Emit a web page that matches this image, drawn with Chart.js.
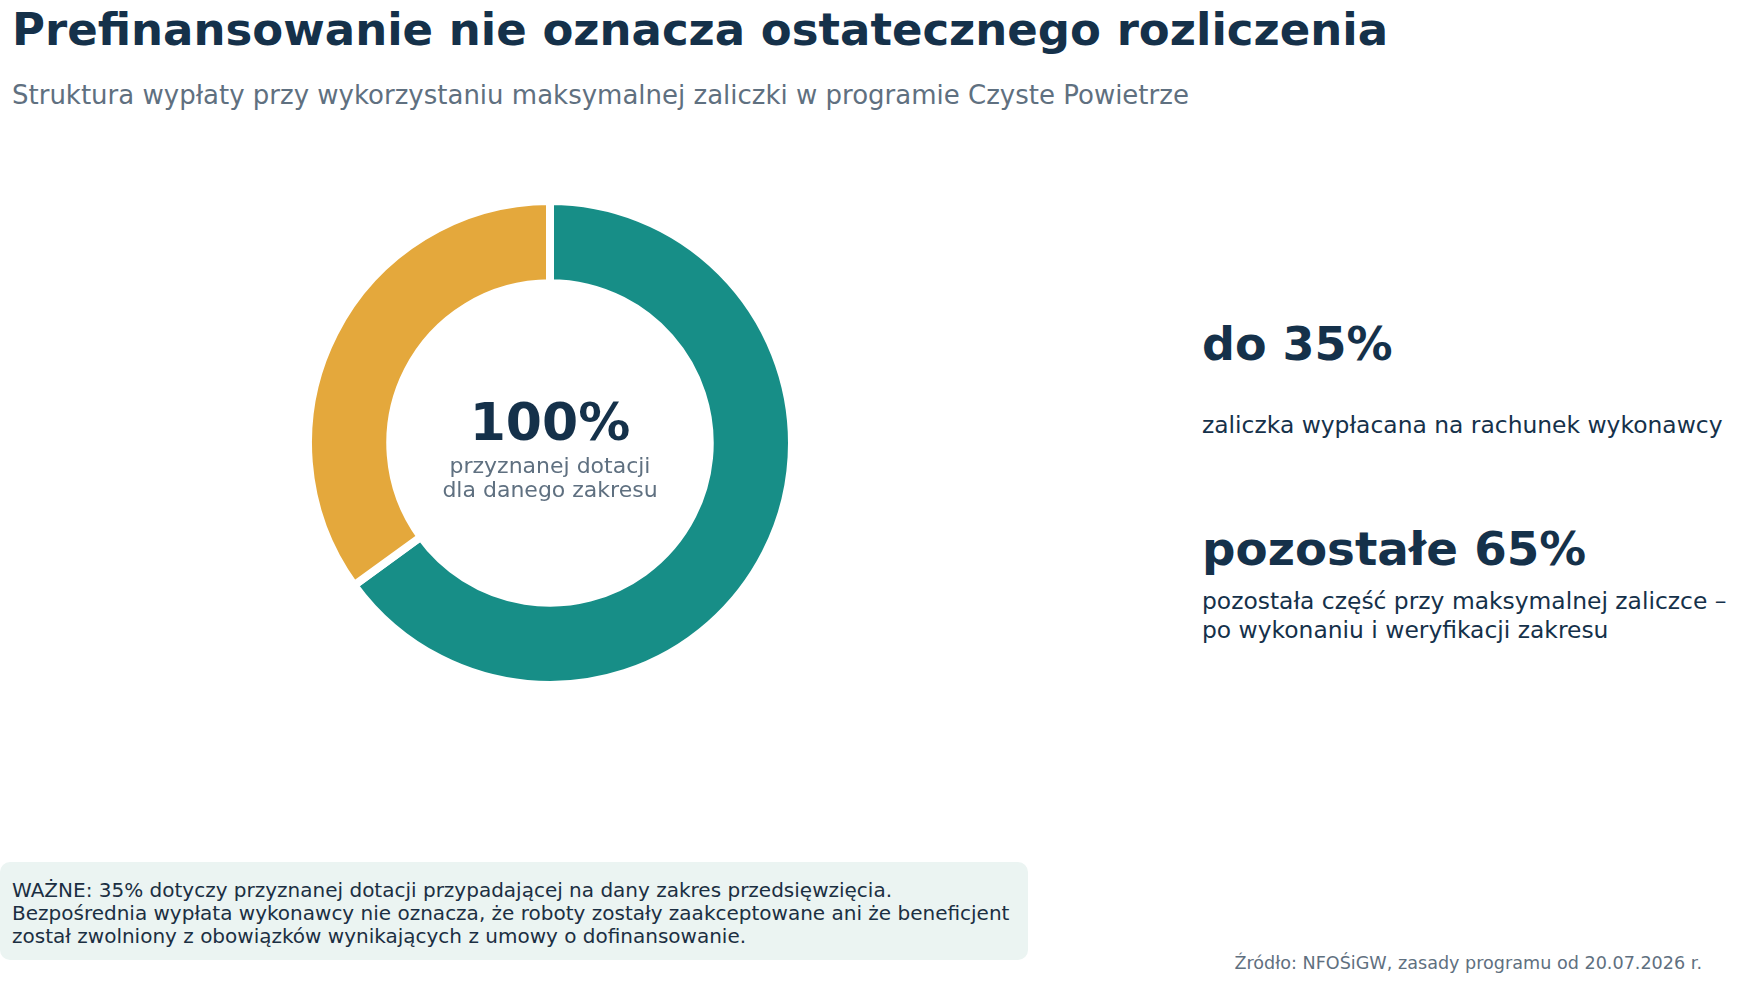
<!DOCTYPE html>
<html lang="pl">
<head>
<meta charset="utf-8">
<script src="https://cdn.jsdelivr.net/npm/chart.js@4.4.1/dist/chart.umd.min.js"></script>
<style>
  html, body { margin: 0; padding: 0; background: #fff; }
  body { width: 1738px; height: 983px; position: relative; overflow: hidden;
         font-family: "DejaVu Sans", sans-serif; color: #15314a; }
  .abs { position: absolute; white-space: nowrap; line-height: 1; }
  #title { left: 12px; top: 7px; font-size: 45px; font-weight: bold; }
  #subtitle { left: 12px; top: 82px; font-size: 26px; color: #5f7080; }
  #chartBox { position: absolute; left: 304px; top: 197px; width: 492px; height: 492px; }
  #center { position: absolute; left: 304px; width: 492px; top: 396px; text-align: center; }
  #center .big { font-size: 52px; font-weight: bold; line-height: 1; }
  #center .small { font-size: 22px; color: #5f7080; line-height: 1.08; margin-top: 6px; }
  .side { position: absolute; left: 1202px; white-space: nowrap; }
  .side .big { font-size: 46px; font-weight: bold; line-height: 1; }
  .side .desc { font-size: 23.4px; line-height: 1.25; }
  #note { position: absolute; left: 0; top: 862px; width: 1028px; height: 98px; background: #ebf4f2;
          border-radius: 10px; box-sizing: border-box; padding: 17px 12px; font-size: 20px; line-height: 23px; color: #1b2f42; white-space: nowrap; }
  #source { right: 36px; top: 955px; font-size: 17.6px; color: #5f7080; }
</style>
</head>
<body>
<div id="title" class="abs"></div>
<div id="subtitle" class="abs"></div>
<div id="chartBox"><canvas id="payoutChart"></canvas></div>
<div id="center"><div class="big"></div><div class="small"></div></div>
<div id="side1" class="side"><div class="big"></div><div class="desc"></div></div>
<div id="side2" class="side"><div class="big"></div><div class="desc"></div></div>
<div id="note"></div>
<div id="source" class="abs"></div>

<script>
var titleText = "Prefinansowanie nie oznacza ostatecznego rozliczenia";
var subtitleText = "Struktura wypłaty przy wykorzystaniu maksymalnej zaliczki w programie Czyste Powietrze";

// pie slices: remaining part first, so the advance ends at 12 o'clock
var sliceLabels = ["pozostałe", "do"];
var sliceValues = [65, 35];
var sliceColors = ["#178e87", "#e4a83c"];
var sliceNotes = [
  "pozostała część przy maksymalnej zaliczce –<br>po wykonaniu i weryfikacji zakresu",
  "zaliczka wypłacana na rachunek wykonawcy"
];

var centerBig = "100%";
var centerSmall = "przyznanej dotacji<br>dla danego zakresu";
var noteText = "WAŻNE: 35% dotyczy przyznanej dotacji przypadającej na dany zakres przedsięwzięcia.<br>" +
  "Bezpośrednia wypłata wykonawcy nie oznacza, że roboty zostały zaakceptowane ani że beneficjent<br>" +
  "został zwolniony z obowiązków wynikających z umowy o dofinansowanie.";
var sourceText = "Źródło: NFOŚiGW, zasady programu od 20.07.2026 r.";

document.getElementById("title").textContent = titleText;
document.getElementById("subtitle").textContent = subtitleText;
document.querySelector("#center .big").textContent = centerBig;
document.querySelector("#center .small").innerHTML = centerSmall;
document.getElementById("note").innerHTML = noteText;
document.getElementById("source").textContent = sourceText;

// side descriptions, advance on top
var s1 = document.getElementById("side1");
s1.style.top = "321px";
s1.querySelector(".big").textContent = sliceLabels[1] + " " + sliceValues[1] + "%";
s1.querySelector(".desc").innerHTML = sliceNotes[1];
s1.querySelector(".desc").style.marginTop = "44px";
var s2 = document.getElementById("side2");
s2.style.top = "526px";
s2.querySelector(".big").style.fontSize = "46.8px";
s2.querySelector(".big").textContent = sliceLabels[0] + " " + sliceValues[0] + "%";
s2.querySelector(".desc").innerHTML = sliceNotes[0];
s2.querySelector(".desc").style.marginTop = "14px";

var ctx = document.getElementById("payoutChart");
var payoutChart = new Chart(ctx, {
  type: 'doughnut',
  data: {
    labels: sliceLabels,
    datasets: [{
      data: sliceValues,
      backgroundColor: sliceColors,
      borderColor: '#ffffff',
      borderWidth: 8,
      hoverOffset: 0
    }]
  },
  options: {
    responsive: true,
    maintainAspectRatio: false,
    animation: false,
    cutout: '66%',
    plugins: {
      legend: { display: false },
      tooltip: { enabled: false }
    }
  }
});
</script>
</body>
</html>
